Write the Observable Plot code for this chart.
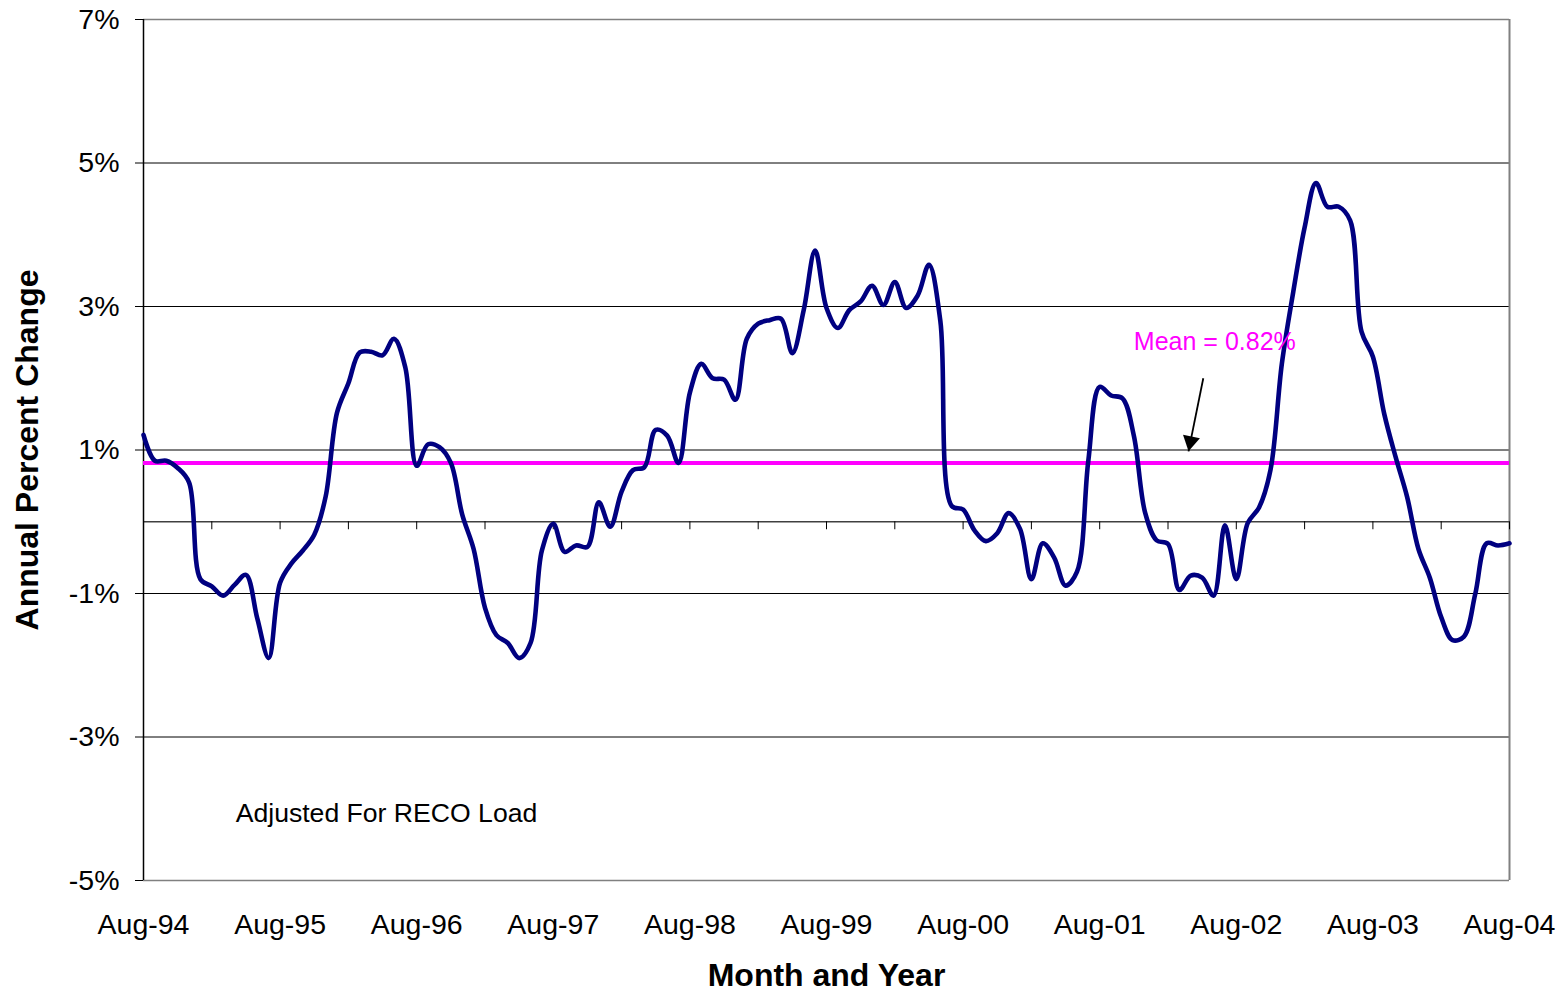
<!DOCTYPE html>
<html>
<head>
<meta charset="utf-8">
<script src="https://cdn.jsdelivr.net/npm/d3@7"></script>
<script src="https://cdn.jsdelivr.net/npm/@observablehq/plot@0.6"></script>
<style>
  html, body { margin: 0; padding: 0; background: #ffffff; }
  #chart svg { display: block; }
</style>
</head>
<body>
<div id="chart"></div>
<script>
// Monthly annual percent change, Aug-94 .. Aug-04 (121 months)
const values = [
  1.21, 0.85, 0.85, 0.75, 0.55, -0.80, -0.90, -1.03, -0.88, -0.74, -1.35, -1.90,
  -0.85, -0.58, -0.40, -0.18, 0.35, 1.52, 1.93, 2.36, 2.37, 2.32, 2.55, 2.15,
  0.78, 1.08, 1.04, 0.82, 0.10, -0.38, -1.20, -1.58, -1.69, -1.90, -1.69, -0.40,
  -0.03, -0.42, -0.33, -0.35, 0.27, -0.07, 0.42, 0.72, 0.76, 1.28, 1.20, 0.82,
  1.80, 2.20, 2.00, 1.98, 1.70, 2.55, 2.76, 2.81, 2.83, 2.35, 2.95, 3.78,
  2.98, 2.70, 2.95, 3.07, 3.29, 3.02, 3.34, 2.98, 3.15, 3.58, 2.80, 0.22,
  0.17, -0.12, -0.27, -0.16, 0.12, -0.10, -0.80, -0.30, -0.50, -0.89, -0.70, 0.85,
  1.88, 1.76, 1.72, 1.20, 0.12, -0.26, -0.31, -0.95, -0.75, -0.78, -1.03, -0.05,
  -0.80, -0.02, 0.20, 0.72, 2.20, 3.20, 4.10, 4.72, 4.39, 4.39, 4.20, 2.65,
  2.30, 1.50, 0.90, 0.35, -0.38, -0.78, -1.33, -1.65, -1.60, -1.00, -0.30, -0.33,
  -0.30
];
const xTickLabels = ["Aug-94", "Aug-95", "Aug-96", "Aug-97", "Aug-98", "Aug-99",
                     "Aug-00", "Aug-01", "Aug-02", "Aug-03", "Aug-04"];
const yTicks = [7, 5, 3, 1, -1, -3, -5];
const gridLevels = [5, 3, 1, -1, -3];
const minorTickMonths = d3.range(6, 121, 6);
const meanValue = 0.82;
const meanLabel = "Mean = 0.82%";
const meanLabelPos = {x: 87, y: 2.5};
const arrowFrom = {x: 93.1, y: 2.0};
const arrowTo = {x: 91.8, y: 0.98};
const noteText = "Adjusted For RECO Load";
const notePos = {x: 8.1, y: -4.07};
const yTitle = "Annual Percent Change";
const xTitle = "Month and Year";

const data = values.map((v, i) => ({m: i, v}));

const chart = Plot.plot({
  width: 1566,
  height: 995,
  marginLeft: 143,
  marginRight: 57,
  marginTop: 19,
  marginBottom: 115,
  style: {fontFamily: "'Liberation Sans', Arial, sans-serif", fontSize: "28.5px", background: "#ffffff", color: "#000000"},
  x: {
    domain: [0, 120],
    ticks: d3.range(0, 121, 12),
    tickFormat: (i) => xTickLabels[i / 12],
    tickSize: 0,
    tickPadding: 33,
    label: null
  },
  y: {
    domain: [-5, 7],
    ticks: yTicks,
    tickSize: 8,
    tickPadding: 16,
    tickFormat: (d) => d + "%",
    label: null
  },
  marks: [
    Plot.ruleY(gridLevels, {stroke: "#000000", strokeWidth: 1}),
    Plot.ruleY([7, -5], {stroke: "#808080", strokeWidth: 1.5}),
    Plot.ruleX([120], {stroke: "#808080", strokeWidth: 2}),
    Plot.ruleY([0], {stroke: "#404040", strokeWidth: 1.5}),
    Plot.ruleX(minorTickMonths, {x: (d) => d, y1: () => 0, y2: () => 0, insetBottom: -8, stroke: "#000000", strokeWidth: 1}),
    Plot.ruleX([0], {stroke: "#000000", strokeWidth: 1.5}),
    Plot.ruleY([meanValue], {stroke: "#FF00FF", strokeWidth: 4}),
    Plot.line(data, {x: "m", y: "v", stroke: "#000080", strokeWidth: 4.6, curve: "catmull-rom", strokeLinejoin: "round"}),
    Plot.text([meanLabel], {x: () => meanLabelPos.x, y: () => meanLabelPos.y, text: (d) => d, fill: "#FF00FF", fontSize: 25, textAnchor: "start"}),
    Plot.link([0], {x1: () => arrowFrom.x, y1: () => arrowFrom.y, x2: () => arrowTo.x, y2: () => arrowTo.y, stroke: "#000000", strokeWidth: 1.8}),
    Plot.dot([0], {x: () => arrowTo.x, y: () => arrowTo.y, symbol: "triangle", r: 6.4, fill: "#000000", stroke: "none", rotate: 191.5, dx: 2, dy: -10}),
    Plot.text([noteText], {x: () => notePos.x, y: () => notePos.y, text: (d) => d, fill: "#000000", fontSize: 26.6, textAnchor: "start"}),
    Plot.text([yTitle], {frameAnchor: "left", text: (d) => d, rotate: -90, dx: -116, textAnchor: "middle", lineAnchor: "middle", fontSize: 32, fontWeight: "bold", fill: "#000000"}),
    Plot.text([xTitle], {frameAnchor: "bottom", text: (d) => d, dy: 95, textAnchor: "middle", lineAnchor: "middle", fontSize: 32, fontWeight: "bold", fill: "#000000"})
  ]
});
document.getElementById("chart").appendChild(chart);
</script>
</body>
</html>
